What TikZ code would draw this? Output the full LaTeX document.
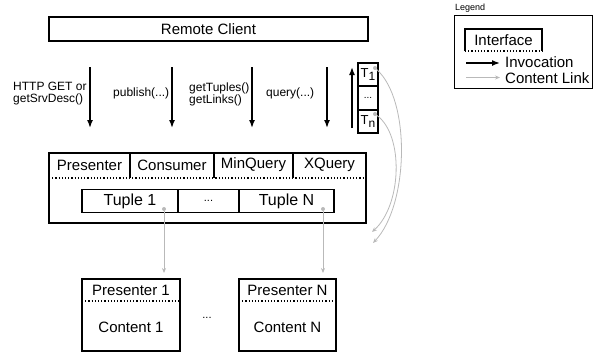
\documentclass[tikz,border=0pt]{standalone}
\usepackage{fontspec}
\setmainfont{Liberation Sans}
\usetikzlibrary{arrows.meta,calc}
\definecolor{linkgray}{RGB}{185,185,185}

\begin{document}
\begin{tikzpicture}[x=1pt,y=-1pt]

\tikzstyle{box} = [draw=black, line width=1.2, inner sep=0, outer sep=0]
\tikzstyle{txt} = [inner sep=0, font=\fontsize{15}{18}\selectfont]
\tikzstyle{calltxt} = [inner sep=0, anchor=west, align=left,
    font=\fontsize{12}{12}\selectfont]
\tikzstyle{invoke} = [line width=1.5, -{Latex[length=8,width=6]}]
\tikzstyle{contentlink} = [draw=linkgray, line width=0.8,
    -{Stealth[length=5,width=4]}]
\tikzstyle{linkdot} = [circle, fill=linkgray, inner sep=0, minimum size=4]
\tikzstyle{tcell} = [box, minimum width=20, font=\fontsize{13}{13}\selectfont]

\useasboundingbox (0,0) rectangle (600,354);

% =========================
% remote client and calls
% =========================
\node[box, txt, minimum width=319, minimum height=24] (client) at (208.5,29) {Remote Client};

\foreach \x/\n in {90/a,172/b,252/c,327/d} {
    \coordinate (\n top) at (\x,67);
    \coordinate (\n bot) at (\x,128);
    \draw[invoke] (\n top) -- (\n bot);
}
\coordinate (ret top) at (352,67);
\coordinate (ret bot) at (352,128);
\draw[invoke] (ret bot) -- (ret top);

\node[calltxt] (httpget) at (13,94) {HTTP GET or\\getSrvDesc()};
\node[calltxt] (publish) at (113,93) {publish(...)};
\node[calltxt] (gettuples) at (189,94) {getTuples()\\getLinks()};
\node[calltxt] (query) at (266,93) {query(...)};

% result tuples
\node[tcell, minimum height=23] (t1) at (368,74.5) {T\raisebox{-3pt}{\fontsize{12}{12}\selectfont 1}};
\node[tcell, minimum height=24, font=\fontsize{10}{10}\selectfont] (tdots) at (368,98) {...};
\node[tcell, minimum height=23] (tn) at (368,121.5) {T\raisebox{-3pt}{\fontsize{12}{12}\selectfont n}};
\node[linkdot] (t1dot) at (375,68) {};
\node[linkdot] (tndot) at (375,114) {};

% =========================
% service with interfaces
% =========================
\node[box, minimum width=317, minimum height=70] (server) at (207.5,188) {};

\node[txt] (presenter) at (89.5,165) {Presenter};
\node[txt] (consumer) at (172,165) {Consumer};
\node[txt] (minquery) at (253.5,165) {MinQuery};
\node[txt] (xquery) at (329.5,165) {XQuery};
\foreach \x in {130,214,293} {
    \draw[line width=1.2] (\x,153) -- (\x,178);
}
\draw[dotted, line width=1.2] (server.west |- 0,178) -- (server.east |- 0,178);

\node[box, txt, minimum width=96, minimum height=23, font=\fontsize{16}{16}\selectfont] (tuple1) at (130,201) {Tuple 1};
\node[box, txt, minimum width=61, minimum height=23, font=\fontsize{11}{11}\selectfont] (tupdots) at (208.5,201) {...};
\node[box, txt, minimum width=95, minimum height=23, font=\fontsize{16}{16}\selectfont] (tupleN) at (286.5,201) {Tuple N};
\node[linkdot] (tup1dot) at (164,209) {};
\node[linkdot] (tupNdot) at (323,209) {};

\coordinate (t1end) at (373,243);
\coordinate (tnend) at (372,232);
\draw[contentlink] (t1dot) .. controls (411,100) and (409,205) .. (t1end);
\draw[contentlink] (tndot) .. controls (404,135) and (402,205) .. (tnend);

% =========================
% presenters and content
% =========================
\node[box, minimum width=98, minimum height=72] (pres1) at (131,315) {};
\node[txt] (pres1txt) at (131,290) {Presenter 1};
\node[txt] (cont1txt) at (131,327) {Content 1};
\draw[dotted, line width=1.2] (pres1.west |- 0,301) -- (pres1.east |- 0,301);

\node[box, minimum width=97, minimum height=72] (presN) at (287.5,315) {};
\node[txt] (presNtxt) at (287.5,290) {Presenter N};
\node[txt] (contNtxt) at (287.5,327) {Content N};
\draw[dotted, line width=1.2] (presN.west |- 0,301) -- (presN.east |- 0,301);

\node[font=\fontsize{11}{11}\selectfont, inner sep=0] (presdots) at (207,318) {...};

\draw[contentlink] (tup1dot) -- ($(tup1dot |- pres1.north)+(0,-6)$);
\draw[contentlink] (tupNdot) -- ($(tupNdot |- presN.north)+(0,-6)$);

% =========================
% legend
% =========================
\node[anchor=west, inner sep=0, font=\fontsize{9}{9}\selectfont] (legendtitle) at (455,8) {Legend};
\node[draw=black, line width=1, minimum width=138, minimum height=73, inner sep=0] (legend) at (523,51.5) {};

\node[txt] (iface) at (503.5,40) {Interface};
\draw[line width=1.2] (465,51) -- (465,29) -- (542,29) -- (542,51);
\draw[dotted, line width=1.2] (465,51) -- (542,51);

\coordinate (inv start) at (466,63);
\coordinate (inv end) at (500,63);
\draw[invoke] (inv start) -- (inv end);
\node[txt, anchor=west] (invtxt) at (505,62.5) {Invocation};

\coordinate (cl start) at (466,77.5);
\coordinate (cl end) at (500,77.5);
\draw[contentlink] (cl start) -- (cl end);
\node[txt, anchor=west] (cltxt) at (505,78) {Content Link};

\end{tikzpicture}
\end{document}
